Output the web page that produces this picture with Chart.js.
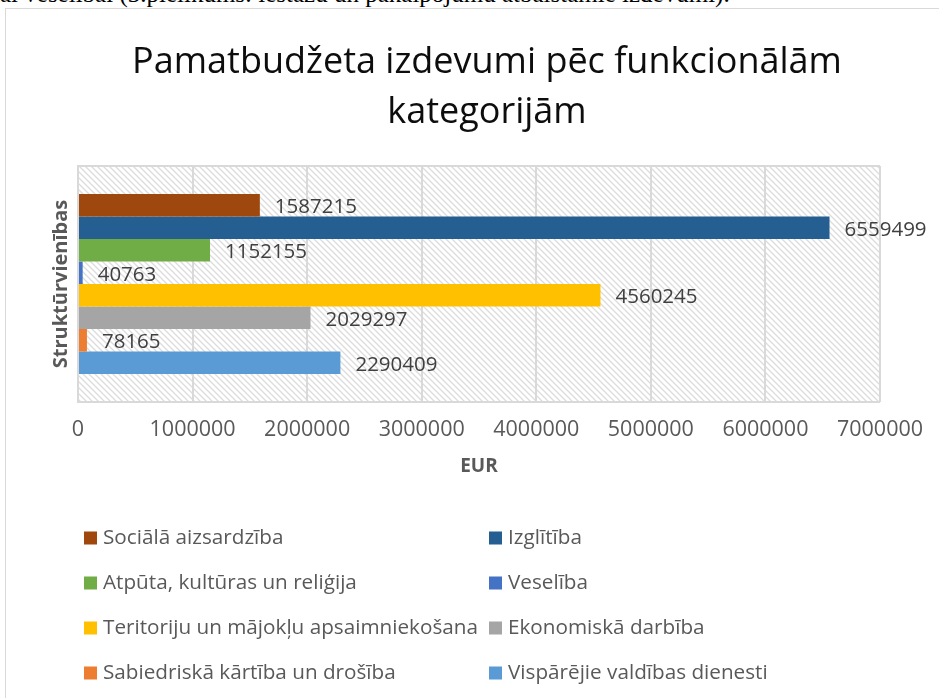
<!DOCTYPE html>
<html>
<head>
<meta charset="utf-8">
<script src="https://cdn.jsdelivr.net/npm/chart.js@4/dist/chart.umd.min.js"></script>
<style>
html,body{margin:0;padding:0;width:939px;height:698px;overflow:hidden;background:#fff;}
#doc{position:absolute;left:0;top:-18px;font-family:"Liberation Serif","Times New Roman",serif;font-size:25px;line-height:24px;white-space:nowrap;color:#000;}
#box{position:absolute;left:5px;top:8px;width:962px;height:700px;border-top:1px solid #d9d9d9;border-left:1px solid #d9d9d9;}
#c{position:absolute;left:0;top:0;}
</style>
</head>
<body>
<div id="doc">ai veselībai (3.pielikums: iestāžu un pakalpojumu atbalstāmie izdevumi).</div>
<div id="box"><canvas id="c" width="962" height="690"></canvas></div>
<script>
// ---- data ----
const categories = ["Struktūrvienības"];
const seriesNames = [
  "Sociālā aizsardzība",
  "Izglītība",
  "Atpūta, kultūras un reliģija",
  "Veselība",
  "Teritoriju un mājokļu apsaimniekošana",
  "Ekonomiskā darbība",
  "Sabiedriskā kārtība un drošība",
  "Vispārējie valdības dienesti"
];
const seriesValues = [1587215, 6559499, 1152155, 40763, 4560245, 2029297, 78165, 2290409];
const xTicks = [0, 1000000, 2000000, 3000000, 4000000, 5000000, 6000000, 7000000];
const titleLines = ["Pamatbudžeta izdevumi pēc funkcionālām", "kategorijām"];
const xTitle = "EUR";
const yTitle = "Struktūrvienības";

// ---- styles ----
const seriesColors = ["#9E480E", "#255E91", "#70AD47", "#4472C4", "#FFC000", "#A5A5A5", "#ED7D31", "#5B9BD5"];
const FONT = '"Open Sans", sans-serif';
const GRID = "#d9d9d9";

function makeHatch() {
  const s = 6;
  const p = document.createElement("canvas");
  p.width = s; p.height = s;
  const g = p.getContext("2d");
  g.fillStyle = "#fff"; g.fillRect(0, 0, s, s);
  g.strokeStyle = "#dcdcdc"; g.lineWidth = 1.3;
  g.beginPath();
  g.moveTo(-1, -1); g.lineTo(s + 1, s + 1);
  g.moveTo(-1, s - 1); g.lineTo(1, s + 1);
  g.moveTo(s - 1, -1); g.lineTo(s + 1, 1);
  g.stroke();
  return p;
}

const hatchPlugin = {
  id: "hatch",
  beforeDraw(chart) {
    const {ctx, chartArea: a} = chart;
    ctx.save();
    ctx.fillStyle = ctx.createPattern(makeHatch(), "repeat");
    ctx.fillRect(a.left, a.top, a.right - a.left, a.bottom - a.top);
    ctx.restore();
  }
};

const labelPlugin = {
  id: "vals",
  afterDatasetsDraw(chart) {
    const ctx = chart.ctx;
    ctx.save();
    ctx.font = "20.5px " + FONT;
    ctx.fillStyle = "#404040";
    ctx.textAlign = "left";
    ctx.textBaseline = "middle";
    chart.data.datasets.forEach((ds, i) => {
      chart.getDatasetMeta(i).data.forEach((bar, j) => {
        ctx.fillText(String(ds.data[j]), bar.x + 15, bar.y + 2);
      });
    });
    ctx.restore();
  }
};

const legendPlugin = {
  id: "gridLegend",
  afterDraw(chart) {
    const ctx = chart.ctx;
    const colX = [78, 483];
    const rowY0 = 529, rowGap = 45, box = 13;
    ctx.save();
    ctx.font = "20.7px " + FONT;
    ctx.textBaseline = "middle";
    chart.data.datasets.forEach((ds, i) => {
      const x = colX[i % 2];
      const y = rowY0 + Math.floor(i / 2) * rowGap;
      ctx.fillStyle = ds.backgroundColor;
      ctx.fillRect(x, y - box / 2, box, box);
      ctx.fillStyle = "#595959";
      ctx.fillText(ds.label, x + box + 6, y);
    });
    ctx.restore();
  }
};

new Chart(document.getElementById("c"), {
  type: "bar",
  data: {
    labels: categories,
    datasets: seriesNames.map((n, i) => ({
      label: n,
      data: [seriesValues[i]],
      backgroundColor: seriesColors[i],
      categoryPercentage: 0.763,
      barPercentage: 1.0
    }))
  },
  options: {
    indexAxis: "y",
    responsive: false,
    animation: false,
    layout: {padding: {left: 0, right: 0, top: 0, bottom: 221.2}},
    plugins: {
      legend: {display: false},
      tooltip: {enabled: false},
      title: {
        display: true,
        text: titleLines,
        color: "#0d0d0d",
        font: {family: FONT, size: 36, weight: "normal", lineHeight: 50 / 36},
        padding: {top: 29, bottom: 28}
      }
    },
    scales: {
      x: {
        min: 0, max: 7000000,
        afterBuildTicks(scale) { scale.ticks = xTicks.map(v => ({value: v})); },
        ticks: {
          callback: v => String(v),
          color: "#595959",
          font: {family: FONT, size: 21.5},
          padding: 15,
          maxRotation: 0
        },
        grid: {color: GRID, lineWidth: 2, drawTicks: false},
        border: {display: false},
        title: {display: true, text: xTitle, color: "#595959", font: {family: FONT, size: 19, weight: "bold"}, padding: {top: 0, bottom: 0}},
        afterFit(scale) { scale.height = 75.8; scale.paddingLeft = 0; scale.paddingRight = 0; }
      },
      y: {
        ticks: {display: false},
        grid: {color: GRID, lineWidth: 2, drawTicks: false, offset: true},
        border: {color: GRID, width: 2},
        title: {display: true, text: yTitle, color: "#595959", font: {family: FONT, size: 20, weight: "bold"}, padding: {top: 43, bottom: 0}},
        afterFit(scale) { scale.width = 72; }
      },
      yRight: {
        type: "category",
        labels: categories,
        position: "right",
        ticks: {display: false},
        grid: {display: false},
        border: {display: false},
        afterFit(scale) { scale.width = 88; }
      }
    }
  },
  plugins: [hatchPlugin, labelPlugin, legendPlugin]
});
</script>
</body>
</html>
